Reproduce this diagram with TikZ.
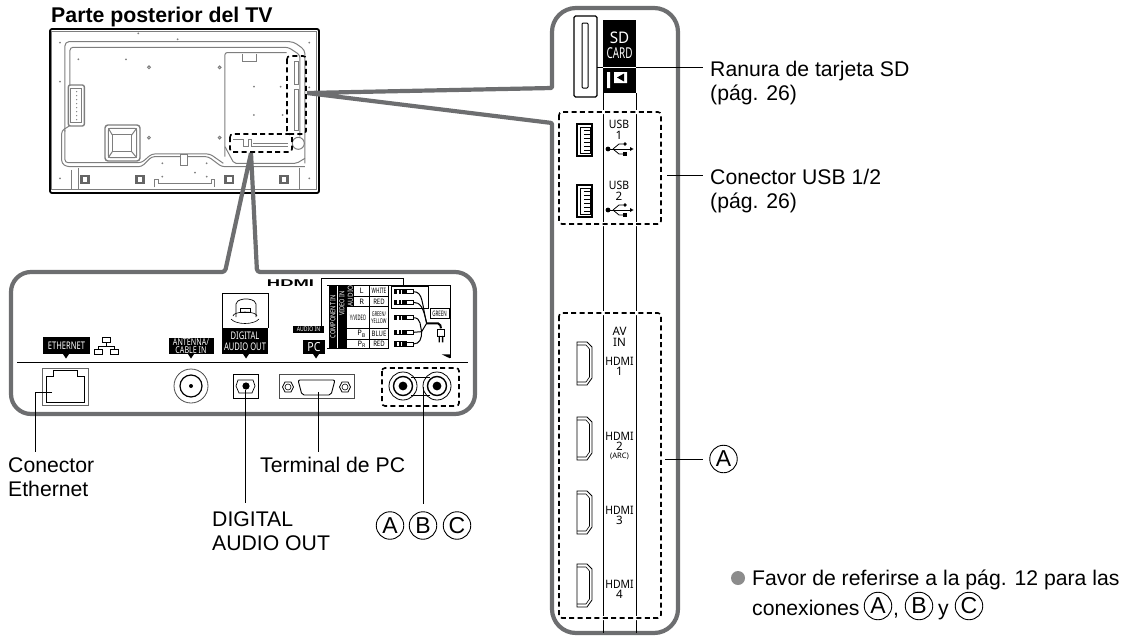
\documentclass[tikz,border=0pt]{standalone}
\usepackage{fontspec}
\setmainfont{Liberation Sans}
\newfontfamily\portfont{Noto Sans}
\usetikzlibrary{arrows.meta,calc,positioning}
\definecolor{FrameGray}{HTML}{6D6E70}
\definecolor{SketchGray}{HTML}{7E7E7E}
\definecolor{BulletGray}{HTML}{8C8C8C}
\newcommand{\squeeze}[2][.72]{\scalebox{#1}[1]{#2}}
\newcommand{\fsize}[1]{\fontsize{#1}{#1}\selectfont}
\tikzset{
  every node/.style={inner sep=0pt},
  callout/.style={draw=FrameGray, line width=4.2pt},
  zoombox/.style={draw=black, line width=1.6pt, dash pattern=on 5pt off 3.4pt, rounded corners=3pt},
  leader/.style={draw=black, line width=1pt},
  sketch/.style={draw=SketchGray, line width=1pt},
  portline/.style={draw=black, line width=.9pt},
  caption/.style={font=\fontsize{21.2}{24}\selectfont, anchor=base west, align=left},
  plate/.style={fill=black, text=white, align=center, font=\portfont\fontsize{10.5}{11.5}\selectfont},
  tiny/.style={font=\portfont\fsize{7.5}},
  slotlabel/.style={font=\portfont\fsize{11.6}, text=black},
  badge/.style={draw=black, line width=.9pt, circle, minimum size=27.5pt, font=\fsize{23}},
}
\begin{document}
\begin{tikzpicture}[x=1pt,y=-1pt]
  \useasboundingbox (0,0) rectangle (1127,637);
  % TV rear view
  \node[anchor=base west, font=\bfseries\fsize{21.3}] (tvtitle) at (51,23) {Parte posterior del TV};
  \begin{scope}[shift={(30,0)},x=.3333pt,y=-.3333pt]
    \draw[sketch] (65,95) rectangle (860,570);
    \draw[sketch, rounded corners=4pt] (105,395) -- (105,125) -- (790,125) -- (825,150) -- (825,490);
    \draw[sketch, rounded corners=3pt] (120,255) -- (120,142) -- (775,142) -- (810,165) -- (810,410);
    \draw[sketch, rounded corners=2pt] (585,470) -- (585,158) -- (770,158);
    \draw[sketch] (638,162) -- (638,185) -- (680,185) -- (680,162);
    \draw[sketch, rounded corners=2pt] (585,440) -- (612,490) -- (800,490) -- (825,475);
    \draw[sketch] (805,430) circle (6pt);
    % left block and mount
    \draw[sketch, line width=1.4pt, rounded corners=2pt] (115,255) rectangle (163,378);
    \draw[sketch] (122,265) rectangle (155,368);
    \foreach \y in {275,287,...,360}
      \fill[SketchGray] (140,\y) circle (.7pt);
    \draw[sketch, line width=1.4pt, rounded corners=3pt] (225,375) rectangle (330,483);
    \draw[sketch, rounded corners=2pt] (235,385) rectangle (320,473);
    \draw[sketch] (247,405) rectangle (305,455);
    \draw[sketch] (235,385) -- (247,405) (320,385) -- (305,405) (235,473) -- (247,455) (320,473) -- (305,455);
    % cable run and lower band
    \draw[sketch, rounded corners=3pt] (118,378) -- (95,392) -- (95,490) -- (110,500) -- (335,500) -- (365,470) -- (535,470) -- (575,500) -- (825,500);
    \draw[sketch, rounded corners=3pt] (105,390) -- (105,488) -- (335,488) -- (365,462) -- (540,462) -- (580,490);
    \draw[sketch] (145,505) -- (145,568) -- (810,568) -- (810,505);
    \draw[sketch] (125,510) -- (125,568);
    \draw[sketch, fill=white] (452,463) rectangle (473,497);
    \draw[sketch] (375,562) -- (375,540) -- (385,540) -- (385,550) -- (545,550) -- (545,540) -- (553,540) -- (553,562);
    \foreach \x in {165,330,598,762} {
      \fill[SketchGray!80!black] ({\x-15},524) rectangle ({\x+15},552);
      \fill[white] ({\x-7},531) rectangle ({\x+7},545);
    }
    \foreach \x/\y in {90/128,325/100,443/118,838/128,90/245,838/262,145/178,288/178,672/260,752/260,672/345,758/345,90/535,838/535,397/490,530/490,397/530,495/518,530/530}
      \fill[SketchGray] (\x,\y) circle (1pt);
    \foreach \x/\y in {357/202,569/202,357/413,569/413}
      \draw[sketch] (\x,\y) circle (1.4pt);
    % slots behind the dashed boxes
    \draw[sketch] (795,185) rectangle (805,255);
    \draw[sketch] (795,270) rectangle (805,392);
    \draw[sketch] (610,420) -- (640,420) -- (640,440) -- (655,440) -- (655,420) -- (665,420) -- (665,440) -- (775,440);
    \draw[sketch] (670,430) -- (775,430);
  \end{scope}
  \draw[line width=1.8pt, rounded corners=2pt] (50,29) rectangle (319,193);
  \draw[zoombox] (287,56) rectangle (306,134);
  \draw[zoombox] (230,134) rectangle (292,152);
  % Callout frames
  \coordinate (tvside) at (307,93);
  \coordinate (tvbase) at (251,153);
  \draw[callout, line join=round] (tvside) [rounded corners=1pt] -- (552,88) [rounded corners=24pt] -- (552,8) -- (678,8) -- (678,633) -- (552,633) [rounded corners=1pt] -- (552,123) -- (tvside);
  \draw[callout, line join=round] (tvbase) [rounded corners=3pt] -- (225,272) [rounded corners=20pt] -- (11,272) -- (11,414) -- (475,414) -- (475,272) [rounded corners=3pt] -- (257,272) -- (tvbase);
  % Lower panel
  \draw[portline] (17,362) -- (468,362);
  \foreach \x in {66,191,246,316}
    \fill (\x-3,354) -- (\x+3,354) -- (\x,358.5) -- cycle;
  \node[plate, minimum width=47pt, minimum height=17pt] (ethplate) at (66.5,345.5) {\squeeze{ETHERNET}};
  \node[plate, minimum width=45pt, minimum height=16pt, font=\portfont\fontsize{9.4}{8.6}\selectfont] (antplate) at (191,346) {\squeeze[.76]{ANTENNA/}\\\squeeze[.76]{CABLE IN}};
  \node[plate, minimum width=46pt, minimum height=26pt] (audioplate) at (245,341) {\squeeze{DIGITAL}\\\squeeze{AUDIO OUT}};
  \node[plate, minimum width=22pt, minimum height=14pt, font=\portfont\fsize{12.5}] (pcplate) at (314,347) {\squeeze[.85]{PC}};
  \node[plate, minimum width=31pt, minimum height=7pt, font=\portfont\fsize{6.4}] (audioin) at (308.5,329) {\squeeze[.8]{AUDIO IN}};
  \node[font=\bfseries\fsize{9.8}] (hdmilogo) at (290.5,283.5) {\squeeze[1.88]{HDMI}};
  % network icon
  \draw[line width=.8pt] (102,337) rectangle (110,342) (106,342) -- (106,346) (98,349) -- (98,346) -- (114,346) -- (114,349) (94,349) rectangle (102,354) (110,349) rectangle (118,354);
  % optical plug
  \draw[line width=.8pt] (222,328) -- (222,293) -- (268,293) -- (268,328);
  \draw[line width=.6pt] (233,316) arc (180:0:12 and -4);
  \draw[line width=.6pt] (231,319) .. controls (236,325) and (254,325) .. (259,319);
  \draw[line width=.7pt, rounded corners=2pt] (236,317) -- (236,302) -- (242,299) -- (250,299) -- (256,302) -- (256,317);
  \draw[line width=.6pt] (240,308) rectangle (250,312);
  % ethernet port
  \draw[draw=black!60, line width=.8pt] (42,368) rectangle (88,405);
  \draw[portline] (46,376) -- (53,376) -- (53,370) -- (77,370) -- (77,376) -- (84,376) -- (84,402) -- (46,402) -- cycle;
  % antenna port
  \draw[draw=black!70, line width=.8pt] (191,386) circle (17pt);
  \draw[portline, line width=1.2pt] (191,386) circle (11pt);
  \fill (191,386) circle (2pt);
  % optical port
  \draw[portline] (233,374) rectangle (258,398);
  \draw[line width=.7pt] (238,380) -- (253,380) -- (255,386) -- (252,393) -- (239,393) -- (236,386) -- cycle;
  \fill (246,386) circle (3.6pt);
  % pc port
  \draw[draw=black!70, line width=.9pt] (279,374) rectangle (354,398);
  \draw[portline, rounded corners=2pt] (298,380) -- (335,380) -- (331,395) -- (302,395) -- cycle;
  \foreach \x in {288,345} {
    \draw[line width=.6pt] (\x,387) circle (3pt);
    \draw[line width=.7pt] (\x-5.5,387) -- (\x-3,382) -- (\x+3,382) -- (\x+5.5,387) -- (\x+3,392) -- (\x-3,392) -- cycle;
  }
  % rca pair
  \draw[portline] (411,377) -- (430,377) (411,395) -- (430,395);
  \foreach \x in {403,437} {
    \draw[line width=.8pt] (\x,386) circle (14pt);
    \draw[line width=1.4pt] (\x,386) circle (9.5pt);
    \fill (\x,386) circle (4.4pt);
  }
  \draw[zoombox] (382,368) rectangle (459,406);
  % Component table
  \begin{scope}[shift={(240,260)},x=.3333pt,y=-.3333pt]
    \draw[line width=.8pt] (245,197) -- (245,55) -- (490,55) -- (490,75);
    \draw[line width=.9pt] (262,75) -- (630,75) -- (630,295);
    \fill (605,283) -- (630,283) -- (630,295) -- cycle;
    \fill (268,75) rectangle (320,266);
    \fill (320,75) rectangle (342,140);
    \draw[white, line width=.5pt] (292,78) -- (292,266);
    \draw[line width=.7pt] (342,108) -- (445,108) (320,140) -- (445,140) (320,205) -- (445,205) (320,237) -- (445,237) (262,266) -- (445,266) (388,75) -- (388,266) (445,75) -- (445,266);
    \draw[line width=.4pt] (455,80) rectangle (565,145);
    \draw[line width=.5pt] (570,145) rectangle (628,175);
    \node[plate, font=\portfont\fsize{7}, rotate=90] (compcell) at (279,170) {\squeeze[.8]{COMPONENT IN}};
    \node[plate, font=\portfont\fsize{7}, rotate=90] (videocell) at (306,130) {\squeeze[.8]{VIDEO IN}};
    \node[plate, font=\portfont\fsize{7}, rotate=90] (audiocell) at (331,108) {\squeeze[.9]{AUDIO}};
    \node[tiny] (lcell) at (365,93) {L};
    \node[tiny] (rcell) at (365,125) {R};
    \node[tiny] (ycell) at (354,173) {\squeeze[.55]{Y/VIDEO}};
    \node[tiny] (pbcell) at (365,221) {P\textsubscript{B}};
    \node[tiny] (prcell) at (365,252) {P\textsubscript{R}};
    \node[tiny] (whitecell) at (417,93) {\squeeze[.62]{WHITE}};
    \node[tiny] (redcell) at (417,125) {\squeeze[.8]{RED}};
    \node[tiny, align=center, font=\portfont\fontsize{6.5}{7}\selectfont] (greencell) at (417,173) {\squeeze[.6]{GREEN/}\\\squeeze[.6]{YELLOW}};
    \node[tiny] (bluecell) at (417,221) {\squeeze[.8]{BLUE}};
    \node[tiny] (redcelltwo) at (417,252) {\squeeze[.8]{RED}};
    \node[tiny] (greenbox) at (599,160) {\squeeze[.6]{GREEN}};
    % plugs and cable
    \foreach \y in {95,127,173,217,252} {
      \fill (463,\y-8) rectangle (500,\y+8);
      \fill[white] (472,\y-6) rectangle (476,\y+6);
      \fill[white] (482,\y-6) rectangle (486,\y+6);
      \draw[line width=.6pt] (500,\y-6) rectangle (520,\y+6);
    }
    \draw[line width=1pt] (520,95) .. controls (550,95) and (545,130) .. (560,190);
    \draw[line width=1pt] (520,127) .. controls (540,127) and (550,140) .. (560,190);
    \draw[line width=1pt] (520,173) .. controls (545,173) and (540,200) .. (545,215);
    \draw[line width=1pt] (520,217) -- (545,215);
    \draw[line width=1pt] (520,252) .. controls (540,252) and (545,235) .. (545,215) -- (560,190);
    \draw[line width=2pt, rounded corners=2pt] (560,190) -- (600,190) -- (603,205);
    \draw[line width=.8pt] (592,207) rectangle (614,228);
    \fill (596,228) rectangle (600,247) (606,228) rectangle (610,247);
  \end{scope}
  % Bottom leaders
  \coordinate (ethport) at (52,392);
  \coordinate (ethbend) at (35,392);
  \coordinate (ethend) at (35,452);
  \draw[leader] (ethport) -- (ethbend) -- (ethend);
  \node[caption] (ethlabel) at (8,496) {Conector\\Ethernet};
  \coordinate (optport) at (245.5,390);
  \coordinate (optend) at (245.5,503);
  \draw[leader] (optport) -- (optend);
  \node[caption] (optlabel) at (212,550) {DIGITAL\\AUDIO OUT};
  \coordinate (pcport) at (318,392);
  \coordinate (pcend) at (318,452);
  \draw[leader] (pcport) -- (pcend);
  \node[caption] (pclabel) at (260,472) {Terminal de PC};
  \coordinate (rcaport) at (423,387);
  \coordinate (rcaend) at (423,504);
  \draw[leader] (rcaport) -- (rcaend);
  \node[badge] (rcaa) at (390,525.5) {A};
  \node[badge] (rcab) at (423,525.5) {B};
  \node[badge] (rcac) at (457,525.5) {C};
  % Side panel
  \draw[line width=1pt] (603,93) -- (603,633) (636,93) -- (636,633);
  \draw[line width=1.1pt, rounded corners=1.5pt] (574,16) rectangle (597,97);
  \draw[line width=1pt, rounded corners=1pt] (582,23) rectangle (588,88);
  \fill (603,20) rectangle (636,93);
  \node[slotlabel, text=white, font=\portfont\fsize{16}] (sdtag) at (619.5,38) {\squeeze[.95]{SD}};
  \node[slotlabel, text=white, font=\portfont\fsize{15}] (cardtag) at (619.5,53) {\squeeze[.66]{CARD}};
  \fill[white] (614,72) rectangle (627,83) (607,72) rectangle (610,88);
  \fill (617,77.5) -- (624,73.5) -- (624,81.5) -- cycle;
  % USB ports
  \foreach \y/\n in {124/1,185/2} {
    \draw[line width=1.2pt] (577,\y) rectangle (592,\y+32);
    \draw[line width=.5pt] (580,\y+3) rectangle (590,\y+29);
    \foreach \k in {6,10,...,26}
      \draw[line width=.5pt] (584,\y+\k) -- (590,\y+\k);
    \node[slotlabel] (usb\n) at (619,\y) {\squeeze[.9]{USB}};
    \node[slotlabel] (usbnum\n) at (619,\y+11) {\n};
    \fill (608,\y+25) circle (2.4pt);
    \draw[line width=.9pt] (608,\y+25) -- (632,\y+25);
    \fill (633.5,\y+25) -- (630,\y+23) -- (630,\y+27) -- cycle;
    \draw[line width=.8pt] (613,\y+25) -- (619,\y+20) -- (623,\y+20);
    \fill (625,\y+20) circle (1.8pt);
    \draw[line width=.8pt] (613,\y+25) -- (619,\y+30) -- (623,\y+30);
    \fill (623,\y+28) rectangle (627,\y+32);
  }
  % HDMI ports
  \foreach \y in {342,417,491,564} {
    \draw[line width=.8pt] (577,\y) -- (587,\y) -- (592,\y+5) -- (592,\y+36) -- (587,\y+43) -- (577,\y+43) -- cycle;
    \draw[line width=.6pt] (577,\y+3) -- (586,\y+3) -- (589.5,\y+7) -- (589.5,\y+35) -- (586,\y+40) -- (577,\y+40);
  }
  \node[slotlabel] (avtag) at (619.5,331) {AV};
  \node[slotlabel] (intag) at (619.5,342) {IN};
  \foreach \y/\n in {361/1,436/2,510/3,584/4} {
    \node[slotlabel] (hdmi\n) at (619.5,\y) {\squeeze[.9]{HDMI}};
    \node[slotlabel] (hdminum\n) at (619.5,\y+10) {\n};
  }
  \node[slotlabel, font=\portfont\fsize{7.6}] (arctag) at (619.5,456) {(ARC)};
  \draw[zoombox, preaction={draw=white, line width=4pt, solid}] (559,112) rectangle (661,224);
  \draw[zoombox, preaction={draw=white, line width=4pt, solid}] (559,313) rectangle (661,618);
  % Side leaders
  \coordinate (sdslot) at (597,67);
  \coordinate (sdtagleft) at (603,67);
  \coordinate (sdtagright) at (636,67);
  \coordinate (sdend) at (703,67);
  \draw[leader] (sdslot) -- (sdend);
  \draw[draw=white, line width=1pt] (sdtagleft) -- (sdtagright);
  \node[caption] (sdlabel) at (710,100) {Ranura de tarjeta SD\\(pág. 26)};
  \coordinate (usbbox) at (667,175.5);
  \coordinate (usbend) at (703,175.5);
  \draw[leader] (usbbox) -- (usbend);
  \node[caption] (usblabel) at (710,208) {Conector USB 1/2\\(pág. 26)};
  \coordinate (hdmibox) at (665,459);
  \coordinate (hdmiend) at (703,459);
  \node[badge] (hdmia) at (723.5,459) {A};
  \draw[leader] (hdmibox) -- (hdmiend);
  % Note
  \fill[BulletGray] (738,578) circle (7pt);
  \node[caption] (noteone) at (752,585) {Favor de referirse a la pág. 12 para las};
  \node[caption] (notetwo) at (752,615) {conexiones};
  \node[badge] (notea) at (878,606) {A};
  \node[caption] (comma) at (893,615) {,};
  \node[badge] (noteb) at (919,606) {B};
  \node[caption] (ytext) at (938,615) {y};
  \node[badge] (notec) at (969,606) {C};
\end{tikzpicture}
\end{document}
